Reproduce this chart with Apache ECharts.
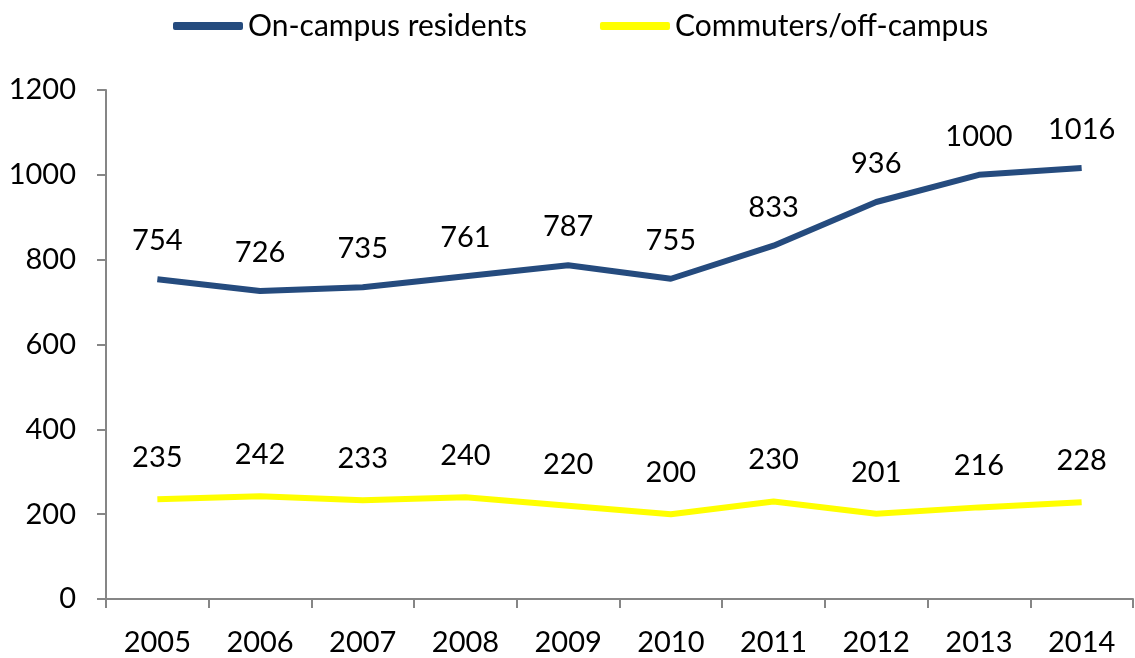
<!DOCTYPE html>
<html><head><meta charset="utf-8">
<script src="https://cdn.jsdelivr.net/npm/echarts@6/dist/echarts.min.js"></script>
<style>html,body{margin:0;padding:0;background:#fff}#c{width:1135px;height:658px}</style>
</head><body><div id="c"></div>
<script>
var years = ['2005','2006','2007','2008','2009','2010','2011','2012','2013','2014'];
var onCampus = [754,726,735,761,787,755,833,936,1000,1016];
var commuters = [235,242,233,240,220,200,230,201,216,228];
var seriesNames = ['On-campus residents','Commuters/off-campus'];
var FONT = 'Lato';
var chart = echarts.init(document.getElementById('c'));
var labelCfg = {show:true, position:'top', distance:24, color:'#000', fontFamily:FONT, fontSize:29};
chart.setOption({
  animation:false,
  legend:{top:6, left:168, itemWidth:70, itemHeight:8, itemGap:73,
    textStyle:{fontFamily:FONT, fontSize:30, color:'#000'},
    data:[{name:seriesNames[0], icon:'roundRect'},{name:seriesNames[1], icon:'roundRect'}]},
  grid:{left:106, right:2, top:90, bottom:59, containLabel:false},
  xAxis:{type:'category', data:years, boundaryGap:true,
    axisLine:{lineStyle:{color:'#868686', width:2}},
    axisTick:{show:true, length:9, lineStyle:{color:'#868686', width:2}},
    axisLabel:{fontFamily:FONT, fontSize:29, color:'#000', margin:29}},
  yAxis:{type:'value', min:0, max:1200, interval:200,
    axisLine:{show:true, lineStyle:{color:'#868686', width:2}},
    axisTick:{show:true, length:9, lineStyle:{color:'#868686', width:2}},
    splitLine:{show:false},
    axisLabel:{fontFamily:FONT, fontSize:29, color:'#000', margin:30, formatter:function(v){return String(v);}}},
  series:[
    {name:seriesNames[0], type:'line', data:onCampus, symbol:'circle', symbolSize:0, showSymbol:true,
     lineStyle:{color:'#254B7E', width:6}, itemStyle:{color:'#254B7E'}, label:labelCfg},
    {name:seriesNames[1], type:'line', data:commuters, symbol:'circle', symbolSize:0, showSymbol:true,
     lineStyle:{color:'#FFFF00', width:6}, itemStyle:{color:'#FFFF00'}, label:Object.assign({}, labelCfg, {distance:27})}
  ]
});
</script></body></html>
